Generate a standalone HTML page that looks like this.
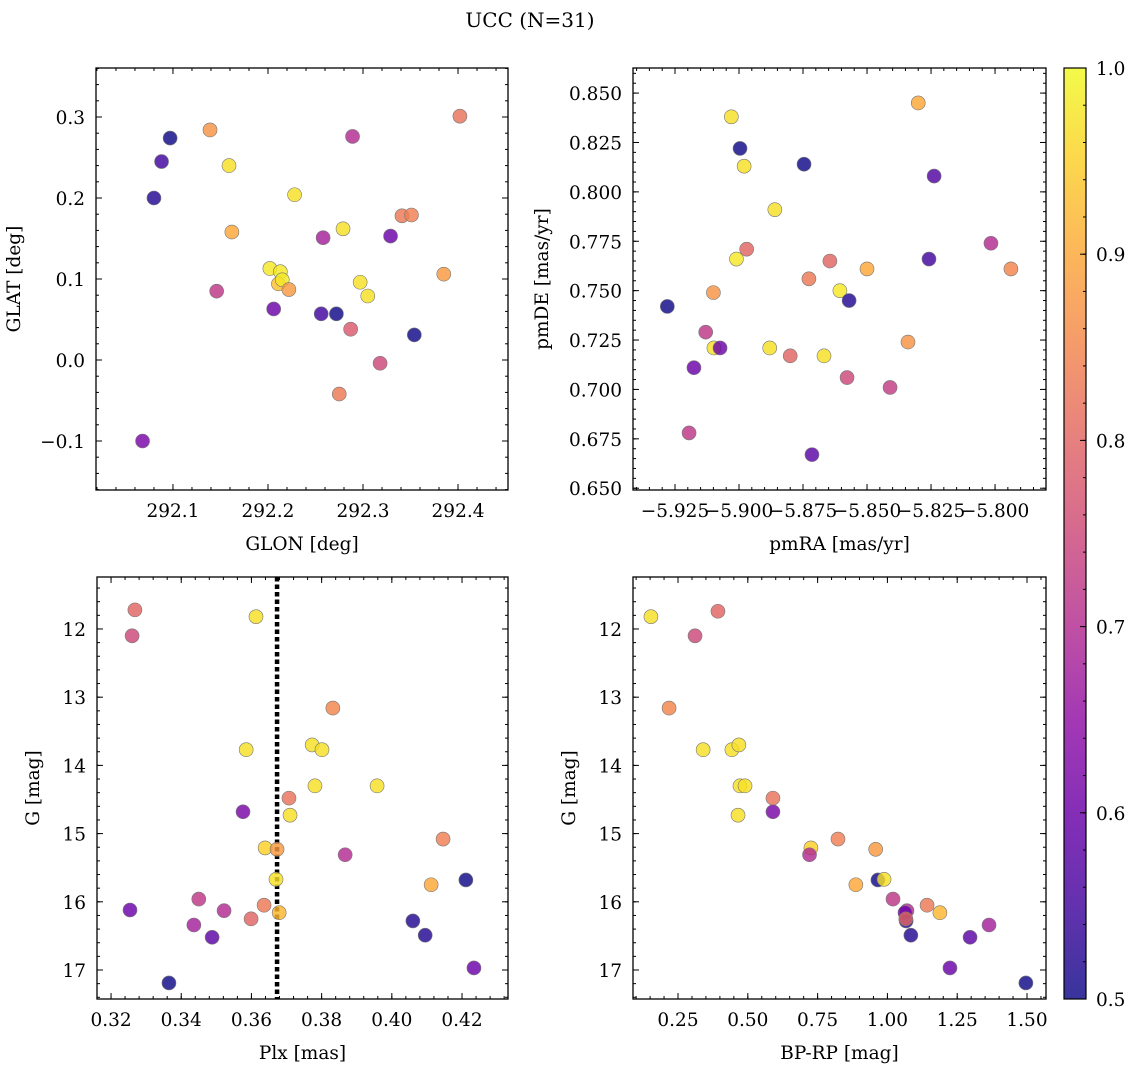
<!DOCTYPE html>
<html><head><meta charset="utf-8"><style>
body{margin:0;background:#fff}
svg{display:block;font-family:"DejaVu Serif","Liberation Serif",serif}
</style></head><body>
<svg id="fig" width="1136" height="1067" viewBox="0 0 1136 1067" xmlns="http://www.w3.org/2000/svg">
<rect width="1136" height="1067" fill="#fff"/>
<text x="530" y="27" font-size="20" text-anchor="middle">UCC (N=31)</text>
</svg>
<script>
// Panel 1: GLON / GLAT
const glon=[292.068,292.080,292.088,292.097,292.139,292.146,292.159,292.162,292.228,292.202,292.213,292.211,292.215,292.222,292.206,292.258,292.289,292.279,292.256,292.272,292.297,292.305,292.287,292.275,292.318,292.329,292.341,292.351,292.354,292.385,292.402];
const glat=[-0.100,0.200,0.245,0.274,0.284,0.085,0.240,0.158,0.204,0.113,0.109,0.094,0.099,0.087,0.063,0.151,0.276,0.162,0.057,0.057,0.096,0.079,0.038,-0.042,-0.004,0.153,0.178,0.179,0.031,0.106,0.301];
const prob1=[0.62,0.52,0.55,0.50,0.87,0.72,0.97,0.90,0.97,0.98,0.98,0.93,0.98,0.88,0.60,0.68,0.70,0.97,0.55,0.50,0.97,0.97,0.78,0.83,0.75,0.60,0.83,0.84,0.50,0.88,0.82];
// Panel 2: pmRA / pmDE
const pmra=[-5.928,-5.9195,-5.9176,-5.913,-5.910,-5.9098,-5.9074,-5.903,-5.901,-5.8996,-5.898,-5.897,-5.888,-5.886,-5.880,-5.8746,-5.8727,-5.8715,-5.8668,-5.8645,-5.8606,-5.8578,-5.857,-5.850,-5.841,-5.834,-5.830,-5.8258,-5.8238,-5.8016,-5.7938];
const pmde=[0.742,0.678,0.711,0.729,0.749,0.721,0.721,0.838,0.766,0.822,0.813,0.771,0.721,0.791,0.717,0.814,0.756,0.667,0.717,0.765,0.750,0.706,0.745,0.761,0.701,0.724,0.845,0.766,0.808,0.774,0.761];
const prob2=[0.50,0.72,0.60,0.72,0.87,0.97,0.60,0.97,0.98,0.50,0.97,0.80,0.97,0.97,0.80,0.50,0.83,0.58,0.97,0.80,0.98,0.75,0.52,0.90,0.73,0.87,0.90,0.55,0.57,0.70,0.85];
// Panel 3: Plx / G
const plx=[0.3268,0.3260,0.3254,0.3365,0.3436,0.3450,0.3488,0.3522,0.3585,0.3576,0.3599,0.3613,0.3636,0.3639,0.3673,0.3670,0.3679,0.3707,0.3710,0.3773,0.3781,0.3801,0.3832,0.3867,0.3958,0.4060,0.4095,0.4112,0.4146,0.4211,0.4234];
const gmag3=[11.72,12.10,16.12,17.19,16.34,15.96,16.52,16.13,13.77,14.68,16.25,11.82,16.05,15.21,15.23,15.67,16.16,14.48,14.73,13.70,14.30,13.77,13.16,15.31,14.30,16.28,16.49,15.75,15.08,15.68,16.97];
const prob3=[0.80,0.75,0.60,0.50,0.68,0.72,0.58,0.70,0.97,0.62,0.80,0.97,0.83,0.95,0.88,0.97,0.92,0.82,0.97,0.97,0.97,0.97,0.85,0.70,0.97,0.52,0.52,0.90,0.84,0.50,0.60];
const plxLine=0.3673;
// Panel 4: BP-RP / G
const bprp=[0.153,0.393,0.311,0.218,0.340,0.443,0.468,0.472,0.490,0.465,0.590,0.590,0.726,0.721,0.823,0.958,0.887,0.966,0.988,1.020,1.070,1.063,1.067,1.066,1.084,1.142,1.188,1.224,1.296,1.364,1.496];
const gmag4=[11.82,11.74,12.10,13.16,13.77,13.77,13.70,14.30,14.30,14.73,14.48,14.68,15.21,15.31,15.08,15.23,15.75,15.68,15.67,15.96,16.13,16.16,16.28,16.25,16.49,16.05,16.16,16.97,16.52,16.34,17.19];
const prob4=[0.97,0.80,0.75,0.85,0.97,0.97,0.97,0.97,0.97,0.97,0.82,0.62,0.95,0.70,0.84,0.88,0.90,0.50,0.97,0.72,0.70,0.60,0.52,0.80,0.52,0.83,0.92,0.60,0.58,0.68,0.50];
// tick labels
const ticks1x=[292.1,292.2,292.3,292.4], ticks1y=[-0.1,0.0,0.1,0.2,0.3];
const ticks2x=[-5.925,-5.900,-5.875,-5.850,-5.825,-5.800], ticks2y=[0.650,0.675,0.700,0.725,0.750,0.775,0.800,0.825,0.850];
const ticks3x=[0.32,0.34,0.36,0.38,0.40,0.42], ticksG=[12,13,14,15,16,17];
const ticks4x=[0.25,0.50,0.75,1.00,1.25,1.50];
const ticksC=[0.5,0.6,0.7,0.8,0.9,1.0];

const NS="http://www.w3.org/2000/svg";
const svg=document.getElementById('fig');
function mk(tag,attrs,parent){const e=document.createElementNS(NS,tag);for(const k in attrs)e.setAttribute(k,attrs[k]);(parent||svg).appendChild(e);return e;}
const stops=[[13,8,135],[65,4,157],[106,0,168],[143,13,164],[177,42,144],[204,71,120],[225,100,98],[242,132,75],[252,166,54],[252,206,37],[240,249,33]];
function plasma(t){t=Math.max(0,Math.min(1,t))*10;const i=Math.min(9,Math.floor(t)),f=t-i;const a=stops[i],b=stops[i+1];return 'rgb('+a.map((v,k)=>Math.round(v+(b[k]-v)*f)).join(',')+')';}
function cnorm(p){return (p-0.5)/0.5;}
function fmt(v,d){const s=Math.abs(v).toFixed(d);return (v<-1e-9?'\u2212':'')+s;}
const FS=18.5;

function panel(c){
  const g=mk('g',{});
  
  
  const sx=v=>c.x0+(v-c.xmin)/(c.xmax-c.xmin)*(c.x1-c.x0);
  const sy=c.invert?(v=>c.y0+(v-c.ymin)/(c.ymax-c.ymin)*(c.y1-c.y0)):(v=>c.y1-(v-c.ymin)/(c.ymax-c.ymin)*(c.y1-c.y0));
  const tg=mk('g',{stroke:'#000','stroke-width':1},g);
  function xt(v,len){const x=sx(v);mk('line',{x1:x,x2:x,y1:c.y1,y2:c.y1-len},tg);mk('line',{x1:x,x2:x,y1:c.y0,y2:c.y0+len},tg);}
  function yt(v,len){const y=sy(v);mk('line',{x1:c.x0,x2:c.x0+len,y1:y,y2:y},tg);mk('line',{x1:c.x1,x2:c.x1-len,y1:y,y2:y},tg);}
  const lo=Math.ceil(c.xmin/c.xminor-1e-6),hi=Math.floor(c.xmax/c.xminor+1e-6);
  for(let i=lo;i<=hi;i++)xt(i*c.xminor,3);
  const lo2=Math.ceil(c.ymin/c.yminor-1e-6),hi2=Math.floor(c.ymax/c.yminor+1e-6);
  for(let i=lo2;i<=hi2;i++)yt(i*c.yminor,3);
  c.xt.forEach(v=>{xt(v,6);const t=mk('text',{x:sx(v),y:c.y1+27,'font-size':FS,'text-anchor':'middle'},g);t.textContent=fmt(v,c.xd);});
  c.yt.forEach(v=>{yt(v,6);const t=mk('text',{x:c.x0-11,y:sy(v)+7,'font-size':FS,'text-anchor':'end'},g);t.textContent=fmt(v,c.yd);});
  if(c.vline!==undefined){const l=mk('line',{x1:sx(c.vline),x2:sx(c.vline),y1:c.y0,y2:c.y1,stroke:'#000','stroke-width':4.5,'stroke-dasharray':'4.5,3'},g);}
  const pg=mk('g',{},g);
  c.xs.forEach((xv,i)=>{const p=mk('circle',{cx:sx(xv),cy:sy(c.ys[i]),r:7,fill:plasma(cnorm(c.ps[i])),'fill-opacity':0.82,stroke:'#777','stroke-width':0.6},pg);
    
    });
  const fr=mk('rect',{x:c.x0,y:c.y0,width:c.x1-c.x0,height:c.y1-c.y0,fill:'none',stroke:'#000','stroke-width':1.3},g);
  
  const xl=mk('text',{x:(c.x0+c.x1)/2,y:c.y1+60,'font-size':FS,'text-anchor':'middle'},g);xl.textContent=c.xl;
  
  const yx=c.x0-c.ylOff,yy=(c.y0+c.y1)/2;
  const yl=mk('text',{x:yx,y:yy,'font-size':FS,'text-anchor':'middle',transform:'rotate(-90 '+yx+' '+yy+')'},g);yl.textContent=c.yl;
  
}
panel({name:'glon-glat-panel',x0:96,x1:508,y0:68,y1:490,xmin:292.019,xmax:292.4526,ymin:-0.1605,ymax:0.3605,xminor:0.02,yminor:0.02,xt:ticks1x,yt:ticks1y,xd:1,yd:1,xs:glon,ys:glat,ps:prob1,xl:'GLON [deg]',yl:'GLAT [deg]',ylOff:76});
panel({name:'proper-motion-panel',x0:633,x1:1046,y0:68,y1:490,xmin:-5.9414,xmax:-5.7801,ymin:0.6491,ymax:0.8627,xminor:0.005,yminor:0.005,xt:ticks2x,yt:ticks2y,xd:3,yd:3,xs:pmra,ys:pmde,ps:prob2,xl:'pmRA [mas/yr]',yl:'pmDE [mas/yr]',ylOff:85});
panel({name:'plx-g-panel',x0:97,x1:508,y0:577,y1:999,xmin:0.3160,xmax:0.4331,ymin:11.238,ymax:17.425,invert:true,xminor:0.004,yminor:0.2,xt:ticks3x,yt:ticksG,xd:2,yd:0,xs:plx,ys:gmag3,ps:prob3,vline:plxLine,xl:'Plx [mas]',yl:'G [mag]',ylOff:58});
panel({name:'cmd-panel',x0:633,x1:1046,y0:577,y1:999,xmin:0.0888,xmax:1.568,ymin:11.238,ymax:17.425,invert:true,xminor:0.05,yminor:0.2,xt:ticks4x,yt:ticksG,xd:2,yd:0,xs:bprp,ys:gmag4,ps:prob4,xl:'BP-RP [mag]',yl:'G [mag]',ylOff:58});

const cb=mk('g',{});


const defs=mk('defs',{},cb);
const lg=mk('linearGradient',{id:'cbg',x1:0,y1:1,x2:0,y2:0},defs);
for(let i=0;i<=20;i++){mk('stop',{offset:(i/20),'stop-color':plasma(i/20),'stop-opacity':0.82},lg);}
const cx0=1064,cx1=1086,cy0=68,cy1=999;
mk('rect',{x:cx0,y:cy0,width:cx1-cx0,height:cy1-cy0,fill:'url(#cbg)',stroke:'#000','stroke-width':1.2},cb);
const csy=v=>cy1-(v-0.5)/0.5*(cy1-cy0);
for(let i=25;i<=50;i++){const y=csy(i*0.02);mk('line',{x1:cx1,x2:cx1-3,y1:y,y2:y,stroke:'#000'},cb);}
ticksC.forEach(v=>{const y=csy(v);mk('line',{x1:cx1,x2:cx1-6,y1:y,y2:y,stroke:'#000'},cb);const t=mk('text',{x:cx1+10,y:y+7,'font-size':FS},cb);t.textContent=v.toFixed(1);
  
  });
</script>
</body></html>
